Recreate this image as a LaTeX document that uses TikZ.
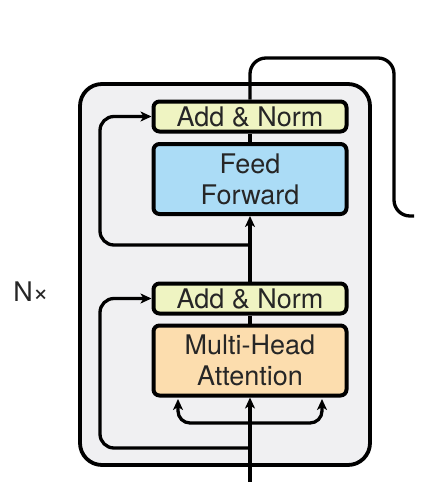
\documentclass[tikz,border=0pt]{standalone}
\usepackage{fontspec}
\setmainfont{TeX Gyre Heros}
\usetikzlibrary{arrows.meta,calc}
\definecolor{normfill}{HTML}{EFF4C2}
\definecolor{fffill}{HTML}{ABDCF6}
\definecolor{attfill}{HTML}{FCDDAE}
\definecolor{layerfill}{HTML}{F0F0F2}
\definecolor{ink}{HTML}{262626}
\begin{document}
\begin{tikzpicture}[x=1pt,y=-1pt,
  every node/.style={font=\fontsize{27}{31}\selectfont, text=ink},
  block/.style={draw=black, line width=4pt, rounded corners=6pt,
    minimum width=193pt, inner sep=0pt, align=center},
  normbox/.style={block, fill=normfill, minimum height=30pt},
  bigbox/.style={block, minimum height=70pt},
  wire/.style={line width=3.3pt, draw=black},
  arr/.style={wire, -{Stealth[length=11pt,width=10pt,inset=3pt]}}]
\useasboundingbox (0,0) rectangle (446,482);
\fill[white] (0,0) rectangle (446,482);

% encoder layer frame
\draw[line width=3.8pt, fill=layerfill, rounded corners=22pt]
  (80,84) rectangle (370,465);

% sub-layers
\node[normbox] (an2) at (250,116.5) {Add \& Norm};
\node[bigbox, fill=fffill] (ff) at (250,179) {Feed\\Forward};
\node[normbox] (an1) at (250,298.5) {Add \& Norm};
\node[bigbox, fill=attfill] (mha) at (250,360.5) {Multi-Head\\Attention};

\node (nx) at (31,292) {N×};

% anchor points for the wiring
\coordinate (in) at (250,482);
\coordinate (split) at (250,423);
\coordinate (qk) at (178,399);
\coordinate (vv) at (322,399);
\coordinate (res1) at (250,448);
\coordinate (res2) at (250,245);
\coordinate (res1left) at (100,448);
\coordinate (res2left) at (100,245);
\coordinate (outtop) at (250,58);
\coordinate (outright) at (394,58);
\coordinate (outdown) at (394,216);
\coordinate (outend) at (414,216);

% input and attention branches
\draw[arr] (in) -- (mha.south);
\draw[arr, rounded corners=12pt] (split) -| (qk);
\draw[arr, rounded corners=12pt] (split) -| (vv);

% residual connections
\draw[arr, rounded corners=14pt] (res1) -- (res1left) |- (an1.west);
\draw[arr, rounded corners=14pt] (res2) -- (res2left) |- (an2.west);

% main path
\draw[wire] (mha.north) -- (an1.south);
\draw[arr] (an1.north) -- (ff.south);
\draw[wire] (ff.north) -- (an2.south);

% output leaving the layer
\draw[wire, rounded corners=16pt] (an2.north) -- (outtop) -- (outright) -- (outdown) -- (outend);
\end{tikzpicture}
\end{document}
